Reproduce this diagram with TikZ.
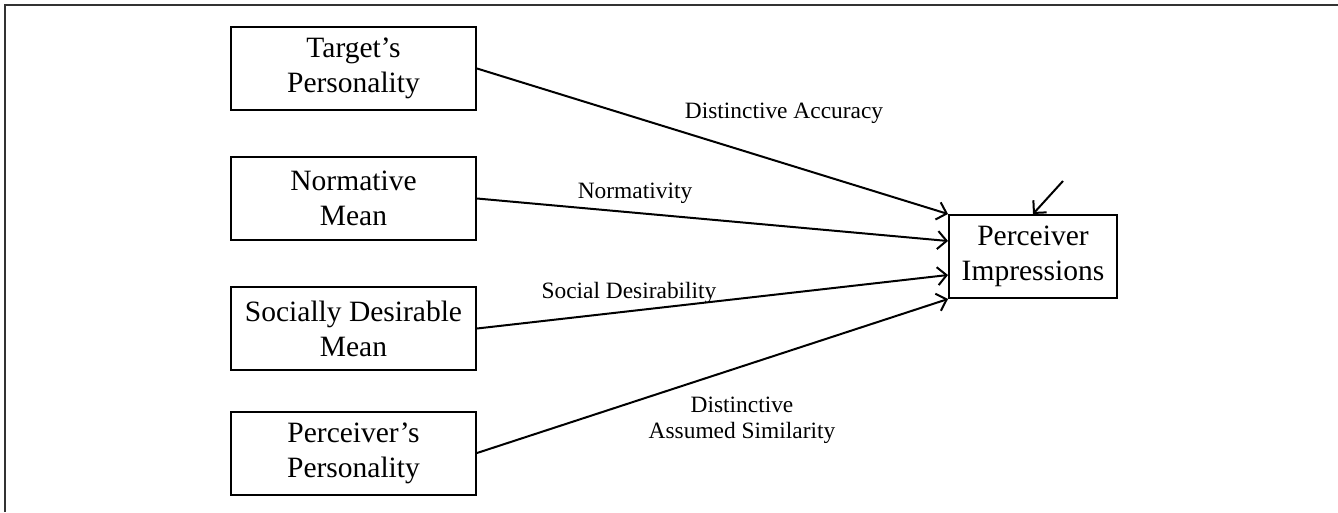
\documentclass[tikz,border=0pt]{standalone}
\usepackage{fontspec}
\setmainfont{Liberation Serif}
\usetikzlibrary{arrows.meta,calc}
\tikzset{
  boxnode/.style={draw=black, line width=2pt, minimum width=245pt, minimum height=83pt, inner sep=0pt, align=center, font=\fontsize{29.5}{35}\selectfont},
  lbl/.style={inner sep=0pt, align=center, font=\fontsize{23.4}{26}\selectfont},
  conn/.style={draw=black, line width=2pt, -{Straight Barb[length=9pt,width=18pt,line width=2pt]}},
  frame/.style={draw=black!80, line width=2pt}
}
\begin{document}
\begin{tikzpicture}[x=1pt,y=-1pt]
\useasboundingbox (0,0) rectangle (1338,512);
\coordinate (fa) at (5,512);
\coordinate (fb) at (5,5);
\coordinate (fc) at (1338,5);
\draw[frame] (fa) -- (fb) -- (fc);

\node[boxnode] (tp) at (353.5,68.5) {Target's\\Personality};
\node[boxnode] (nm) at (353.5,198.5) {Normative\\Mean};
\node[boxnode] (sd) at (353.5,328.5) {Socially Desirable\\Mean};
\node[boxnode] (pp) at (353.5,453) {Perceiver's\\Personality};
\node[boxnode, minimum width=168pt] (pi) at (1033,256.5) {Perceiver\\Impressions};

\coordinate (err) at (1063,181);

\draw[conn] (tp.east) -- (pi.north west);
\draw[conn] (nm.east) -- ($(pi.west)+(0,-15.5)$);
\draw[conn] (sd.east) -- ($(pi.west)+(0,18.5)$);
\draw[conn] (pp.east) -- (pi.south west);
\draw[conn] (err) -- (pi.north);

\node[lbl] (l1) at (784,113) {Distinctive Accuracy};
\node[lbl] (l2) at (635,193) {Normativity};
\node[lbl] (l3) at (629,293) {Social Desirability};
\node[lbl] (l4) at (742,420) {Distinctive\\Assumed Similarity};
\end{tikzpicture}
\end{document}
